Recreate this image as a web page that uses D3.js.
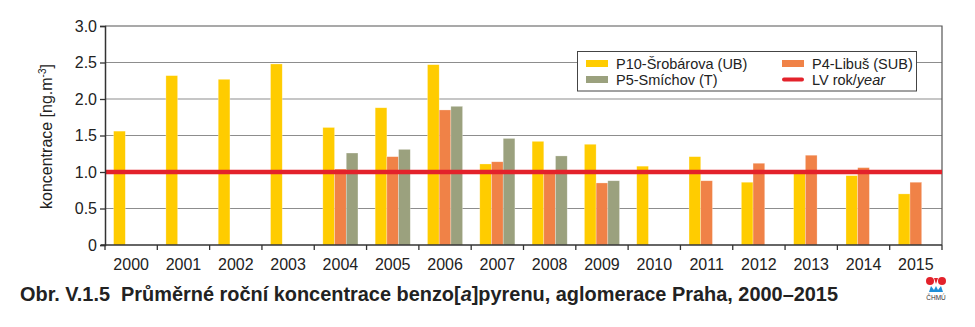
<!DOCTYPE html>
<html><head><meta charset="utf-8">
<script src="https://cdn.jsdelivr.net/npm/d3@7"></script>
<style>
html,body{margin:0;padding:0;background:#fff;}
svg{display:block;font-family:"Liberation Sans",Arial,sans-serif;}
</style></head>
<body>
<svg id="chart" width="975" height="327"></svg>
<script>
const years = ["2000","2001","2002","2003","2004","2005","2006","2007","2008","2009","2010","2011","2012","2013","2014","2015"];
const p10Srobarova = [1.56,2.32,2.27,2.48,1.61,1.88,2.47,1.11,1.42,1.38,1.08,1.21,0.86,0.98,0.95,0.70];
const p4Libus      = [null,null,null,null,1.04,1.21,1.85,1.14,1.02,0.85,null,0.88,1.12,1.23,1.06,0.86];
const p5Smichov    = [null,null,null,null,1.26,1.31,1.90,1.46,1.22,0.88,null,null,null,null,null,null];
const limitValue = 1.0;
const seriesNames = ["P10-Šrobárova (UB)","P4-Libuš (SUB)","P5-Smíchov (T)"];
const seriesColors = ["#ffcc00","#f08247","#9ba17e"];
const yTicks = [0,0.5,1.0,1.5,2.0,2.5,3.0];
const yTickLabels = ["0","0.5","1.0","1.5","2.0","2.5","3.0"];

const seriesData = [p10Srobarova, p4Libus, p5Smichov];
const svg = d3.select("#chart");
const L = 105, R = 942, T = 26, B = 245;

const x = d3.scaleBand().domain(years).range([L, R]).paddingInner(0).paddingOuter(0);
const xs = d3.scaleBand().domain(d3.range(3)).range([0, x.bandwidth()]).paddingInner(0).paddingOuter(0.735);
const y = d3.scaleLinear().domain([0, 3]).range([B, T]);

// gridlines
svg.append("g").selectAll("line").data(yTicks.filter(v => v > 0 && v < 3)).join("line")
  .attr("x1", L).attr("x2", R).attr("y1", d => y(d)).attr("y2", d => y(d))
  .attr("stroke", "#8d8d8d").attr("stroke-width", 1.2);

// frame top & right
svg.append("path").attr("d", `M${L},${y(3)}H${R}V${B}`).attr("fill", "none")
  .attr("stroke", "#555").attr("stroke-width", 1.2);

// bars
const cells = [];
years.forEach((yr, i) => seriesData.forEach((arr, s) => {
  if (arr[i] != null) cells.push({yr, s, v: arr[i]});
}));
svg.append("g").selectAll("rect").data(cells).join("rect")
  .attr("x", d => x(d.yr) + xs(d.s))
  .attr("width", xs.bandwidth())
  .attr("y", d => y(d.v))
  .attr("height", d => y(0) - y(d.v))
  .attr("fill", d => seriesColors[d.s])
  .attr("stroke", "rgba(255,255,255,0.45)").attr("stroke-width", 0.6);

// limit line
svg.append("line").attr("x1", L).attr("x2", R).attr("y1", y(limitValue)).attr("y2", y(limitValue))
  .attr("stroke", "#e3222b").attr("stroke-width", 4.5);

// y axis
const yAxis = svg.append("g").attr("transform", `translate(${L},0)`)
  .call(d3.axisLeft(y).tickValues(yTicks).tickFormat((d, i) => yTickLabels[i]).tickSize(5).tickPadding(3));
yAxis.select(".domain").attr("stroke", "#333").attr("stroke-width", 1.5);
yAxis.selectAll(".tick line").attr("stroke", "#333").attr("stroke-width", 1.3);
yAxis.selectAll(".tick text").attr("font-size", 16).attr("fill", "#222")
  .attr("font-family", '"Liberation Sans",Arial,sans-serif');

// x axis
const xAxis = svg.append("g").attr("transform", `translate(0,${B})`)
  .call(d3.axisBottom(x).tickSize(0).tickPadding(14));
xAxis.select(".domain").remove();
xAxis.selectAll(".tick text").attr("font-size", 16).attr("fill", "#222")
  .attr("font-family", '"Liberation Sans",Arial,sans-serif');
svg.append("line").attr("x1", L - 4).attr("x2", R).attr("y1", B).attr("y2", B)
  .attr("stroke", "#333").attr("stroke-width", 1.5);
const bounds = years.map(yr => x(yr)).concat([R]);
svg.append("g").selectAll("line").data(bounds).join("line")
  .attr("x1", d => d).attr("x2", d => d).attr("y1", B).attr("y2", B + 5)
  .attr("stroke", "#333").attr("stroke-width", 1.3);

// y title
const yt = svg.append("text").attr("transform", `translate(52,${(T + B) / 2 + 1}) rotate(-90)`)
  .attr("text-anchor", "middle").attr("font-size", 16).attr("fill", "#222");
yt.append("tspan").text("koncentrace [ng.m");
yt.append("tspan").attr("font-size", 10).attr("dy", -6).text("-3");
yt.append("tspan").attr("dy", 6).text("]");

// legend
const lg = svg.append("g");
lg.append("rect").attr("x", 577.5).attr("y", 51.5).attr("width", 339).attr("height", 39.5)
  .attr("fill", "#fff").attr("stroke", "#444").attr("stroke-width", 1);
const legendItems = [
  {label: seriesNames[0], color: seriesColors[0], x: 586, y: 60, type: "rect"},
  {label: seriesNames[2], color: seriesColors[2], x: 586, y: 76, type: "rect"},
  {label: seriesNames[1], color: seriesColors[1], x: 782, y: 60, type: "rect"},
  {label: "LV rok/", italic: "year", color: "#e3222b", x: 782, y: 76, type: "line"}
];
legendItems.forEach(it => {
  if (it.type === "rect") {
    lg.append("rect").attr("x", it.x).attr("y", it.y).attr("width", 22).attr("height", 7).attr("fill", it.color);
  } else {
    lg.append("line").attr("x1", it.x + 2).attr("x2", it.x + 20).attr("y1", it.y + 3.5).attr("y2", it.y + 3.5)
      .attr("stroke", it.color).attr("stroke-width", 4).attr("stroke-linecap", "round");
  }
  const t = lg.append("text").attr("x", it.x + 30).attr("y", it.y + 9).attr("font-size", 14.5).attr("fill", "#222");
  t.append("tspan").text(it.label);
  if (it.italic) t.append("tspan").attr("font-style", "italic").text(it.italic);
});

// caption
const cap = svg.append("text").attr("x", 20).attr("y", 301).attr("font-size", 19.5)
  .attr("font-weight", "bold").attr("fill", "#222").style("white-space", "pre")
  .attr("textLength", 818).attr("lengthAdjust", "spacingAndGlyphs");
cap.append("tspan").text("Obr. V.1.5  Průměrné roční koncentrace benzo[");
cap.append("tspan").attr("font-style", "italic").text("a");
cap.append("tspan").text("]pyrenu, aglomerace Praha, 2000–2015");

// logo
const logo = svg.append("g");
logo.append("circle").attr("cx", 930).attr("cy", 281).attr("r", 4).attr("fill", "#e3222b");
logo.append("circle").attr("cx", 942).attr("cy", 281).attr("r", 4).attr("fill", "#e3222b");
logo.append("path").attr("d", "M934,278 L938,278 L936,284 Z").attr("fill", "#e3222b");
logo.append("path").attr("d", "M929,292 L931,286 L934,290 L936,286 L938,290 L941,286 L943,292 Z").attr("fill", "#1f8fd8");
logo.append("text").attr("x", 936).attr("y", 300).attr("text-anchor", "middle").attr("font-size", 6.5)
  .attr("fill", "#333").text("ČHMÚ");
</script>
</body></html>
